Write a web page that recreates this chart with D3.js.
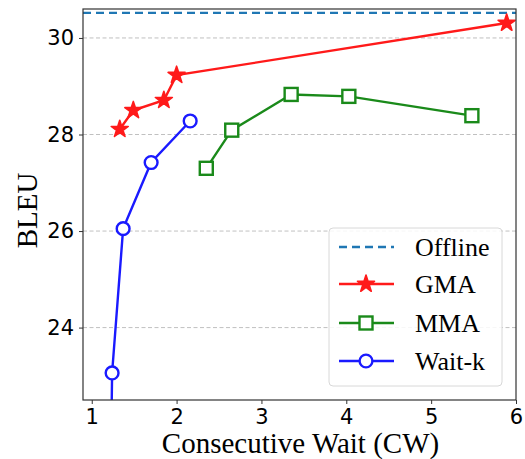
<!DOCTYPE html>
<html>
<head>
<meta charset="utf-8">
<script src="https://cdn.jsdelivr.net/npm/d3@7"></script>
<style>
  body { margin: 0; background: #fff; }
  svg { display: block; }
</style>
</head>
<body>
<div id="chart"></div>
<script>
// Consecutive Wait vs BLEU
var offlineBleu = 30.52;
var gmaCw = [1.33, 1.49, 1.85, 2.0, 5.89];
var gmaBleu = [28.11, 28.50, 28.71, 29.23, 30.31];
var mmaCw = [2.35, 2.65, 3.35, 4.03, 5.48];
var mmaBleu = [27.30, 28.09, 28.83, 28.79, 28.39];
var waitkCw = [1.21, 1.24, 1.37, 1.70, 2.16];
var waitkBleu = [19.0, 23.06, 26.05, 27.42, 28.28];
var xTicks = [1, 2, 3, 4, 5, 6];
var yTicks = [24, 26, 28, 30];
var legendNames = ['Offline', 'GMA', 'MMA', 'Wait-k'];

(function () {
    'use strict';

    var W = 525, H = 459;
    var m = { left: 83, right: 9, top: 9, bottom: 59 };
    var iw = W - m.left - m.right, ih = H - m.top - m.bottom;

    var x = d3.scaleLinear().domain([0.897, 6.0]).range([0, iw]);
    var y = d3.scaleLinear().domain([22.5, 30.6]).range([ih, 0]);

    var svg = d3.select('#chart').append('svg')
        .attr('width', W).attr('height', H);

    svg.append('defs').append('clipPath').attr('id', 'plotclip')
        .append('rect').attr('width', iw).attr('height', ih);

    var g = svg.append('g').attr('transform', 'translate(' + m.left + ',' + m.top + ')');

    // horizontal grid
    g.append('g').selectAll('line').data(yTicks).join('line')
        .attr('x1', 0).attr('x2', iw)
        .attr('y1', function (d) { return y(d); })
        .attr('y2', function (d) { return y(d); })
        .attr('stroke', '#b0b0b0').attr('stroke-width', 0.8)
        .attr('stroke-dasharray', '4,2.5');

    // axes
    var xAxis = g.append('g').attr('transform', 'translate(0,' + ih + ')')
        .call(d3.axisBottom(x).tickValues(xTicks).tickFormat(d3.format('d')).tickSize(4).tickPadding(5));
    var yAxis = g.append('g')
        .call(d3.axisLeft(y).tickValues(yTicks).tickFormat(d3.format('d')).tickSize(4).tickPadding(5));
    [xAxis, yAxis].forEach(function (a) {
        a.select('.domain').remove();
        a.selectAll('line').attr('stroke', '#333').attr('stroke-width', 1);
        a.selectAll('text').attr('fill', '#000')
            .style('font-family', '"DejaVu Sans", sans-serif').style('font-size', '21px');
    });

    var plot = g.append('g').attr('clip-path', 'url(#plotclip)');

    // offline reference line
    plot.append('line')
        .attr('x1', 0).attr('x2', iw)
        .attr('y1', y(offlineBleu)).attr('y2', y(offlineBleu))
        .attr('stroke', '#1f77b4').attr('stroke-width', 2.3)
        .attr('stroke-dasharray', '8,5');

    var line = d3.line()
        .x(function (d) { return x(d[0]); })
        .y(function (d) { return y(d[1]); });

    function zip(a, b) { return a.map(function (v, i) { return [v, b[i]]; }); }

    var series = [
        { pts: zip(gmaCw, gmaBleu), color: '#ff1a1a', marker: 'star' },
        { pts: zip(mmaCw, mmaBleu), color: '#1a8a1a', marker: 'square' },
        { pts: zip(waitkCw, waitkBleu), color: '#1a1aff', marker: 'circle' }
    ];

    var starPath = d3.symbol().type(d3.symbolStar).size(90)();

    function drawMarker(sel, kind, color) {
        if (kind === 'star') {
            sel.append('path').attr('d', starPath)
                .attr('fill', color).attr('stroke', color).attr('stroke-width', 1.6)
                .attr('stroke-linejoin', 'round');
        } else if (kind === 'square') {
            sel.append('rect').attr('x', -6.5).attr('y', -6.5)
                .attr('width', 13).attr('height', 13)
                .attr('fill', '#fff').attr('stroke', color).attr('stroke-width', 2.4);
        } else {
            sel.append('circle').attr('r', 6.4)
                .attr('fill', '#fff').attr('stroke', color).attr('stroke-width', 2.4);
        }
    }

    series.forEach(function (s) {
        plot.append('path').datum(s.pts)
            .attr('d', line).attr('fill', 'none')
            .attr('stroke', s.color).attr('stroke-width', 2.4);
        plot.append('g').selectAll('g').data(s.pts).join('g')
            .attr('transform', function (d) { return 'translate(' + x(d[0]) + ',' + y(d[1]) + ')'; })
            .each(function () { drawMarker(d3.select(this), s.marker, s.color); });
    });

    // frame
    g.append('rect').attr('width', iw).attr('height', ih)
        .attr('fill', 'none').attr('stroke', '#333').attr('stroke-width', 1.2);

    // axis labels
    svg.append('text')
        .attr('x', m.left + iw / 2 + 1).attr('y', 453)
        .attr('text-anchor', 'middle')
        .style('font-family', '"Liberation Serif", serif').style('font-size', '29px')
        .text('Consecutive Wait (CW)');
    svg.append('text')
        .attr('transform', 'translate(37,' + (m.top + ih / 2 + 6) + ') rotate(-90)')
        .attr('text-anchor', 'middle')
        .style('font-family', '"Liberation Serif", serif').style('font-size', '29px')
        .text('BLEU');

    // legend
    var lg = svg.append('g').attr('transform', 'translate(329,228)');
    lg.append('rect').attr('width', 173).attr('height', 158).attr('rx', 4)
        .attr('fill', '#fff').attr('fill-opacity', 0.85)
        .attr('stroke', '#d8d8d8').attr('stroke-width', 1);
    var rowY = [19, 56, 95, 133];
    var legendStyles = [
        { color: '#1f77b4', dash: '8,5', marker: null },
        { color: '#ff1a1a', dash: null, marker: 'star' },
        { color: '#1a8a1a', dash: null, marker: 'square' },
        { color: '#1a1aff', dash: null, marker: 'circle' }
    ];
    legendNames.forEach(function (name, i) {
        var st = legendStyles[i];
        var row = lg.append('g').attr('transform', 'translate(0,' + rowY[i] + ')');
        row.append('line').attr('x1', 10).attr('x2', 65)
            .attr('stroke', st.color).attr('stroke-width', 2.4)
            .attr('stroke-dasharray', st.dash);
        if (st.marker) {
            drawMarker(row.append('g').attr('transform', 'translate(37,0)'), st.marker, st.color);
        }
        row.append('text').attr('x', 86).attr('y', 9)
            .style('font-family', '"Liberation Serif", serif').style('font-size', '26px')
            .text(name);
    });
})();
</script>
</body>
</html>
